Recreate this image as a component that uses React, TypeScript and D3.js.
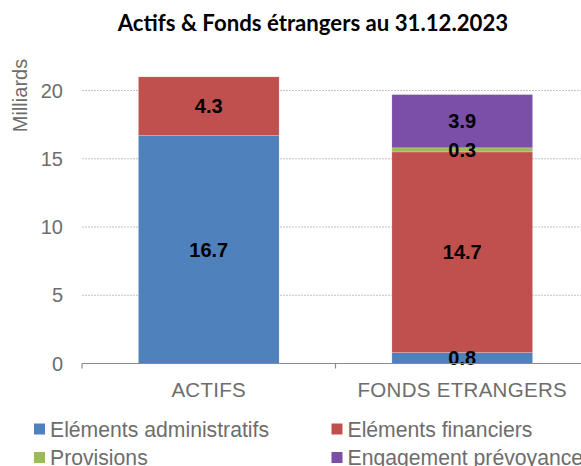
import React from "react";
import * as d3 from "d3";

const categories = ["ACTIFS", "FONDS ETRANGERS"];
const seriesNames = ["Eléments administratifs", "Eléments financiers", "Provisions", "Engagement prévoyance"];
const seriesColors = ["#4F81BD", "#C0504D", "#9BBB59", "#7B4EA8"];
const admin = [16.7, 0.8];
const financiers = [4.3, 14.7];
const provisions = [0, 0.3];
const prevoyance = [0, 3.9];
const yTicks = [0, 5, 10, 15, 20];
const title = "Actifs & Fonds étrangers au 31.12.2023";
const yLabel = "Milliards";

export default function App() {
  const W = 581, H = 466;
  const left = 82, right = 589, bottom = 363.5;
  const x = d3.scaleBand<string>().domain(categories).range([left, right]).paddingInner(0.445).paddingOuter(0.2225);
  const y = d3.scaleLinear().domain([0, 21.9]).range([bottom, bottom - 21.9 * 13.65]);
  const rows = categories.map((c, i) => ({ cat: c, a: admin[i], f: financiers[i], p: provisions[i], e: prevoyance[i] }));
  const stack = d3.stack<any>().keys(["a", "f", "p", "e"])(rows);
  const font = "'Liberation Sans', Arial, sans-serif";
  const step = x.step();
  return (
    <svg width={W} height={H} style={{ position: "absolute", left: 0, top: 0 }}>
      <rect width={W} height={H} fill="#fff" />
      <text x={313} y={31} textAnchor="middle" fontFamily="Lato, 'Open Sans', sans-serif" fontWeight="bold" fontSize={22.2} fill="#000">{title}</text>
      <text transform={`translate(27,${95.5}) rotate(-90)`} textAnchor="middle" fontFamily={font} fontSize={20} fill="#6d6d6d">{yLabel}</text>
      {yTicks.map(t => (
        <g key={t}>
          {t > 0 && <line x1={left} x2={W} y1={y(t)} y2={y(t)} stroke="#c4c4c4" strokeWidth={1} strokeDasharray="2,1" />}
          <text x={63} y={y(t)} dy="0.36em" textAnchor="end" fontFamily={font} fontSize={20} fill="#6d6d6d">{t}</text>
        </g>
      ))}
      {stack.map((s, si) => s.map((d, ci) => {
        const v = d[1] - d[0];
        if (v <= 0) return null;
        const bx = x(categories[ci])!;
        return <rect key={si + "-" + ci} x={bx} y={y(d[1])} width={x.bandwidth()} height={y(d[0]) - y(d[1])} fill={seriesColors[si]} stroke="#fff" strokeOpacity={0.4} strokeWidth={0.5} />;
      }))}
      {stack.map((s, si) => s.map((d, ci) => {
        const v = d[1] - d[0];
        if (v <= 0) return null;
        const cx = x(categories[ci])! + x.bandwidth() / 2;
        return <text key={"l" + si + "-" + ci} x={cx} y={(y(d[0]) + y(d[1])) / 2} dy="0.36em" textAnchor="middle" fontFamily={font} fontWeight="bold" fontSize={20} fill="#000">{v.toFixed(1)}</text>;
      }))}
      <line x1={left} x2={W} y1={bottom} y2={bottom} stroke="#8a8a8a" strokeWidth={1.2} />
      {[0, 1, 2].map(i => (
        <line key={i} x1={left + i * step} x2={left + i * step} y1={bottom} y2={bottom + 5} stroke="#8a8a8a" strokeWidth={1.2} />
      ))}
      {categories.map(c => (
        <text key={c} x={x(c)! + x.bandwidth() / 2} y={397} textAnchor="middle" fontFamily={font} fontSize={20.5} letterSpacing={0.3} fill="#6d6d6d">{c}</text>
      ))}
      {seriesNames.map((n, i) => {
        const lx = i % 2 === 0 ? 34 : 331.5;
        const ly = i < 2 ? 429 : 457.5;
        return (
          <g key={n}>
            <rect x={lx} y={ly - 5.5} width={11} height={11} fill={seriesColors[i]} />
            <text x={lx + 16} y={ly} dy="0.36em" fontFamily={font} fontSize={21.2} fill="#6d6d6d">{n}</text>
          </g>
        );
      })}
    </svg>
  );
}
